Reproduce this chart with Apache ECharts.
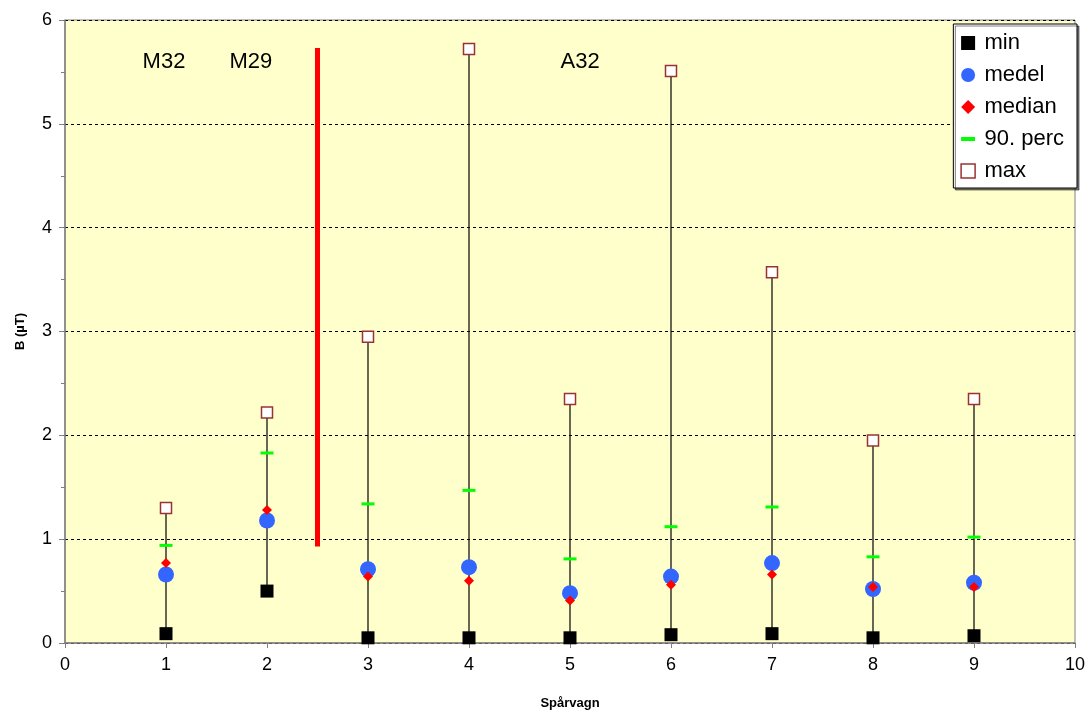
<!DOCTYPE html>
<html>
<head>
<meta charset="utf-8">
<script src="https://cdn.jsdelivr.net/npm/echarts@6/dist/echarts.min.js"></script>
<style>
  html, body { margin: 0; padding: 0; background: #ffffff; }
  #chart { width: 1087px; height: 713px; }
</style>
</head>
<body>
<div id="chart"></div>
<script>
// Spårvagn number (x position) and magnetic field statistics in µT
const vagnar   = [1, 2, 3, 4, 5, 6, 7, 8, 9];
const minVal   = [0.09, 0.50, 0.05, 0.05, 0.05, 0.08, 0.09, 0.05, 0.07];
const medel    = [0.66, 1.18, 0.71, 0.73, 0.48, 0.64, 0.77, 0.52, 0.58];
const median   = [0.77, 1.28, 0.64, 0.60, 0.41, 0.56, 0.66, 0.54, 0.54];
const perc90   = [0.94, 1.83, 1.34, 1.47, 0.81, 1.12, 1.31, 0.83, 1.02];
const maxVal   = [1.30, 2.22, 2.95, 5.72, 2.35, 5.51, 3.57, 1.95, 2.35];

// Divider between the vehicle types: x, y from, y to
const divider = [2.5, 0.93, 5.73];

// Vehicle type labels: text, x, y
const typLabels = [
  ['M32', 0.98, 5.6],
  ['M29', 1.84, 5.6],
  ['A32', 5.1, 5.6]
];

const xTicks = [0, 1, 2, 3, 4, 5, 6, 7, 8, 9, 10];

const pts = arr => vagnar.map((x, i) => [x, arr[i]]);
const FONT = '"Liberation Sans", Arial, sans-serif';

const chart = echarts.init(document.getElementById('chart'));

chart.setOption({
  animation: false,
  backgroundColor: '#ffffff',
  textStyle: { fontFamily: FONT },
  grid: {
    left: 65, right: 12, top: 20, bottom: 70,
    outerBoundsMode: 'none',
    show: true,
    backgroundColor: '#FFFFCC',
    borderColor: '#808080',
    borderWidth: 1
  },
  legend: {
    orient: 'vertical',
    right: 10,
    top: 24,
    padding: [8, 13, 6, 7],
    itemGap: 10,
    itemWidth: 14,
    itemHeight: 14,
    backgroundColor: '#ffffff',
    borderColor: '#000000',
    borderWidth: 1,
    shadowColor: 'rgba(0,0,0,0.5)',
    shadowOffsetX: 2,
    shadowOffsetY: 2,
    shadowBlur: 0,
    formatter: name => '\u2009' + name,
    textStyle: { fontSize: 22, color: '#000', fontFamily: FONT, lineHeight: 22 },
    data: [
      { name: 'min', icon: 'rect', itemStyle: { color: '#000000', opacity: 1 } },
      { name: 'medel', icon: 'circle', itemStyle: { color: '#3366FF', opacity: 1 } },
      { name: 'median', icon: 'diamond', itemStyle: { color: '#FF0000', opacity: 1 } },
      { name: '90. perc', icon: 'path://M0,0 L14,0 L14,4 L0,4 Z', itemStyle: { color: '#00FF00', opacity: 1 } },
      { name: 'max', icon: 'rect', itemStyle: { color: '#ffffff', borderColor: '#993333', borderWidth: 1.5, opacity: 1 } }
    ]
  },
  xAxis: {
    type: 'value',
    min: 0, max: 10, interval: 1,
    name: 'Spårvagn',
    nameLocation: 'middle',
    nameGap: 54,
    nameTextStyle: { fontSize: 13, fontWeight: 'bold', color: '#000', fontFamily: FONT },
    axisLine: { lineStyle: { color: '#808080', width: 1.5 } },
    axisTick: { show: true, inside: false, length: 5, lineStyle: { color: '#808080' } },
    axisLabel: { fontSize: 18, color: '#000', margin: 13, fontFamily: FONT,
      formatter: v => xTicks.includes(v) ? String(v) : '' },
    splitLine: { show: false }
  },
  yAxis: {
    type: 'value',
    min: 0, max: 6, interval: 1,
    name: 'B (µT)',
    nameLocation: 'middle',
    nameGap: 38,
    nameRotate: 90,
    nameTextStyle: { fontSize: 13, fontWeight: 'bold', color: '#000', fontFamily: FONT },
    axisLine: { show: true, lineStyle: { color: '#808080', width: 1.5 } },
    axisTick: { show: true, inside: false, length: 6, lineStyle: { color: '#808080' } },
    minorTick: { show: true, splitNumber: 2, length: 4, lineStyle: { color: '#808080' } },
    axisLabel: { fontSize: 18, color: '#000', margin: 13, fontFamily: FONT },
    splitLine: { show: true, lineStyle: { color: '#000000', type: [3, 3], width: 1 } }
  },
  series: [
    {
      // range whiskers from min to max
      name: 'range',
      type: 'custom',
      silent: true,
      z: 2,
      data: vagnar.map((x, i) => [x, minVal[i], maxVal[i]]),
      renderItem: (params, api) => {
        const a = api.coord([api.value(0), api.value(1)]);
        const b = api.coord([api.value(0), api.value(2)]);
        return {
          type: 'line',
          shape: { x1: a[0], y1: a[1], x2: b[0], y2: b[1] },
          style: { stroke: '#000000', lineWidth: 1.2 }
        };
      }
    },
    {
      name: 'divider',
      type: 'custom',
      silent: true,
      z: 2,
      data: [divider],
      renderItem: (params, api) => {
        const a = api.coord([api.value(0), api.value(1)]);
        const b = api.coord([api.value(0), api.value(2)]);
        return {
          type: 'line',
          shape: { x1: a[0], y1: a[1], x2: b[0], y2: b[1] },
          style: { stroke: '#FF0000', lineWidth: 5 }
        };
      }
    },
    {
      name: 'labels',
      type: 'scatter',
      silent: true,
      symbolSize: 0,
      itemStyle: { opacity: 1 },
      data: typLabels.map(t => ({ value: [t[1], t[2]], name: t[0] })),
      label: {
        show: true,
        position: 'inside',
        formatter: p => p.name,
        fontSize: 22,
        color: '#000000',
        opacity: 1,
        fontFamily: FONT
      }
    },
    {
      name: 'min',
      type: 'scatter',
      z: 3,
      symbol: 'rect',
      symbolSize: 13,
      itemStyle: { color: '#000000', opacity: 1 },
      data: pts(minVal)
    },
    {
      name: 'max',
      type: 'scatter',
      z: 3,
      symbol: 'rect',
      symbolSize: 11,
      itemStyle: { color: '#ffffff', borderColor: '#993333', borderWidth: 1.5, opacity: 1 },
      data: pts(maxVal)
    },
    {
      name: '90. perc',
      type: 'scatter',
      z: 3,
      symbol: 'rect',
      symbolSize: [13, 3],
      itemStyle: { color: '#00FF00', opacity: 1 },
      data: pts(perc90)
    },
    {
      name: 'medel',
      type: 'scatter',
      z: 4,
      symbol: 'circle',
      symbolSize: 16,
      itemStyle: { color: '#3366FF', opacity: 1 },
      data: pts(medel)
    },
    {
      name: 'median',
      type: 'scatter',
      z: 5,
      symbol: 'diamond',
      symbolSize: 10,
      itemStyle: { color: '#FF0000', opacity: 1 },
      data: pts(median)
    }
  ]
});
</script>
</body>
</html>
